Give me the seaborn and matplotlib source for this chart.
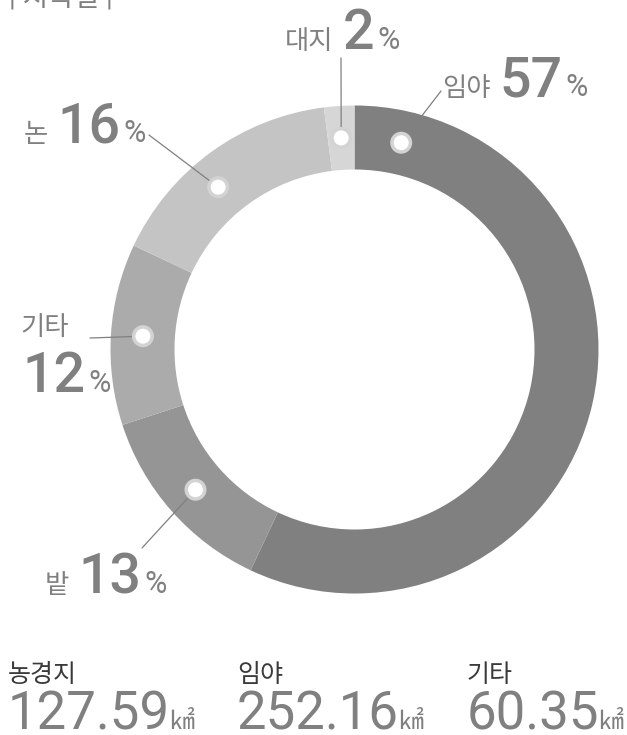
import numpy as np
import seaborn as sns
import matplotlib.pyplot as plt
from matplotlib.patches import Circle

# land use shares (%) clockwise from the top
names = ['임야', '밭', '기타', '논', '대지']
shares = [57, 13, 12, 16, 2]
colors = ['#808080', '#959595', '#ababab', '#c4c4c4', '#d6d6d6']

# area summary (km2)
area_names = ['농경지', '임야', '기타']
areas = [127.59, 252.16, 60.35]

sns.set_style('white')
plt.rcParams['font.family'] = ['Roboto', 'Noto Sans CJK KR', 'DejaVu Sans']

W, H = 627, 735
fig = plt.figure(figsize=(W / 100, H / 100), dpi=100)
ax = fig.add_axes([0, 0, 1, 1])

cx, cy, R, ring = 354.5, 349.5, 244, 64
# y axis points down, so counterclockwise in data = clockwise on screen
ax.pie(shares, colors=colors, startangle=-90, counterclock=True,
       radius=R, center=(cx, cy), wedgeprops=dict(width=ring, linewidth=0))
ax.set_xlim(0, W)
ax.set_ylim(H, 0)
ax.set_aspect('equal')
ax.axis('off')

grey = '#808080'
rend = fig.canvas.get_renderer()


def chain(x, y, parts):
    # parts: (text, size, gap after, extra kwargs)
    for s, size, gap, kw in parts:
        t = ax.text(x, y, s, fontsize=size, color=kw.pop('color', grey),
                    ha='left', va='baseline', **kw)
        x += t.get_window_extent(renderer=rend).width + gap


# label layout: where the marker sits inside its wedge, label anchor, leader end
layout = {
    '임야': dict(frac=0.062, pos=(442, 96), end=(441, 91)),
    '밭': dict(frac=0.5, pos=(45, 593), end=(142, 548)),
    '기타': dict(frac=0.5, pos=(20, 335), end=(90, 338), stacked=True),
    '논': dict(frac=0.43, pos=(24, 142), end=(149, 135)),
    '대지': dict(frac=0.5, pos=(285, 49), end=(341, 58)),
}

start = 0
rm = R - ring / 2
for name, share in zip(names, shares):
    lay = layout[name]
    ang = np.deg2rad(-90 + 3.6 * (start + lay['frac'] * share))
    mx, my = cx + rm * np.cos(ang), cy + rm * np.sin(ang)
    ex, ey = lay['end']
    ax.plot([mx, ex], [my, ey], color=grey, lw=0.9, zorder=3)
    ax.add_patch(Circle((mx, my), 11, color='#d3d3d3', zorder=4, lw=0))
    ax.add_patch(Circle((mx, my), 7.5, color='white', zorder=5, lw=0))
    x, y = lay['pos']
    if lay.get('stacked'):
        chain(x, y, [(name, 19, 0, {})])
        chain(x + 2, y + 57, [(str(share), 40, 3, dict(fontweight='medium')),
                              ('%', 22, 0, {})])
    else:
        chain(x, y, [(name, 19, 9, {}),
                     (str(share), 40, 3, dict(fontweight='medium')),
                     ('%', 22, 0, {})])
    start += share

# cut-off heading at the top
ax.text(9, 5, '| 지목별 |', fontsize=20, color=grey, ha='left', va='baseline')

# area summary row
for i, (nm, v) in enumerate(zip(area_names, areas)):
    x = [8, 237, 467][i]
    chain(x, 682, [(nm, 18, 0, dict(color='#3a3a3a'))])
    chain(x, 729, [(f'{v:.2f}', 38, -1, {}), ('㎢', 18, 0, {})])

fig.savefig('out.png', dpi=100, facecolor='white')
